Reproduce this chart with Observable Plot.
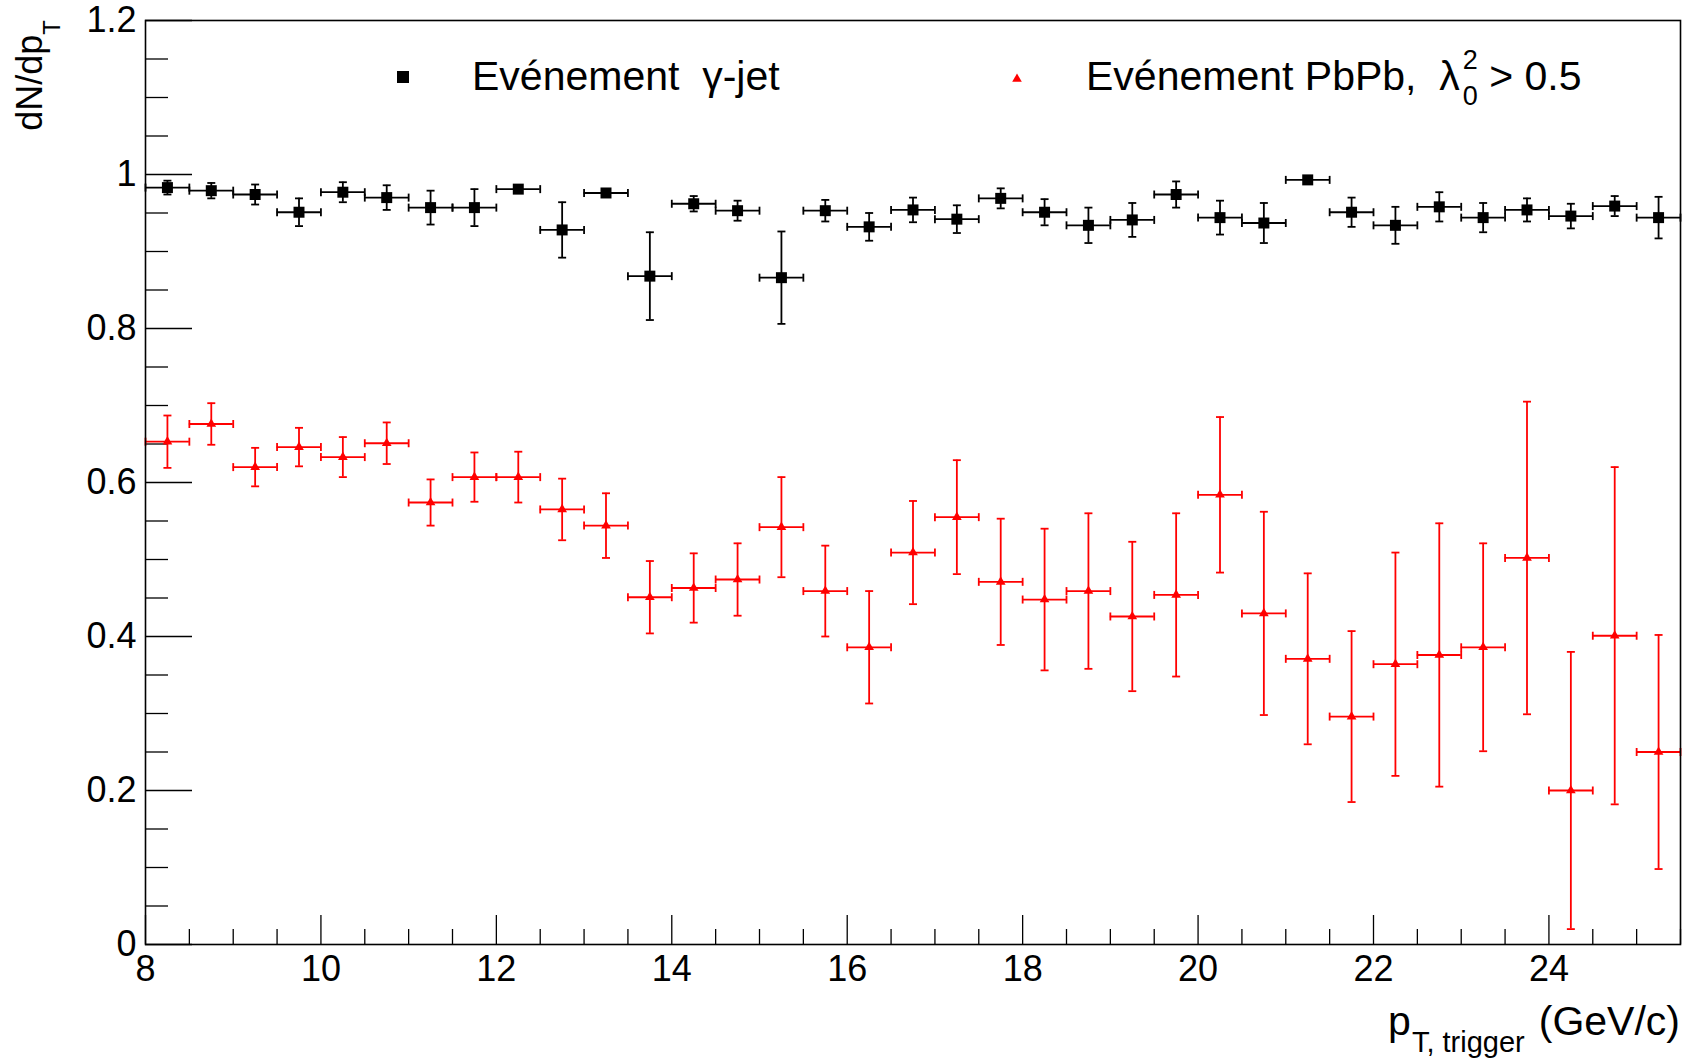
<!DOCTYPE html>
<html>
<head>
<meta charset="utf-8">
<script src="https://cdn.jsdelivr.net/npm/d3@7"></script>
<script src="https://cdn.jsdelivr.net/npm/@observablehq/plot@0.6"></script>
<style>
  html, body { margin: 0; padding: 0; background: #fff; }
  svg { display: block; }
</style>
</head>
<body>
<div id="chart"></div>
<script>
// ---- data ----
const ptCenters = [8.25, 8.75, 9.25, 9.75, 10.25, 10.75, 11.25, 11.75, 12.25, 12.75,
  13.25, 13.75, 14.25, 14.75, 15.25, 15.75, 16.25, 16.75, 17.25, 17.75,
  18.25, 18.75, 19.25, 19.75, 20.25, 20.75, 21.25, 21.75, 22.25, 22.75,
  23.25, 23.75, 24.25, 24.75, 25.25];
const binHalfWidth = 0.25;

const gammaJet = [0.983, 0.979, 0.974, 0.951, 0.977, 0.970, 0.957, 0.957, 0.981, 0.928,
  0.976, 0.868, 0.962, 0.953, 0.866, 0.953, 0.932, 0.954, 0.942, 0.969,
  0.951, 0.934, 0.941, 0.974, 0.944, 0.937, 0.993, 0.951, 0.934, 0.958,
  0.944, 0.954, 0.946, 0.959, 0.944];
const gammaJetErr = [0.009, 0.010, 0.013, 0.018, 0.013, 0.016, 0.022, 0.024, 0.004, 0.036,
  0.005, 0.057, 0.010, 0.013, 0.060, 0.014, 0.018, 0.016, 0.018, 0.013,
  0.017, 0.023, 0.022, 0.017, 0.022, 0.026, 0.004, 0.019, 0.024, 0.019,
  0.019, 0.015, 0.016, 0.013, 0.027];

const pbpb = [0.653, 0.676, 0.620, 0.646, 0.633, 0.651, 0.574, 0.607, 0.607, 0.565,
  0.544, 0.451, 0.463, 0.474, 0.542, 0.459, 0.386, 0.509, 0.555, 0.471,
  0.448, 0.459, 0.426, 0.454, 0.584, 0.430, 0.371, 0.296, 0.364, 0.376,
  0.386, 0.502, 0.200, 0.401, 0.250];
const pbpbErr = [0.034, 0.027, 0.025, 0.025, 0.026, 0.027, 0.030, 0.032, 0.033, 0.040,
  0.042, 0.047, 0.045, 0.047, 0.065, 0.059, 0.073, 0.067, 0.074, 0.082,
  0.092, 0.101, 0.097, 0.106, 0.101, 0.132, 0.111, 0.111, 0.145, 0.171,
  0.135, 0.203, 0.180, 0.219, 0.152];

const xDomain = [8, 25.5];
const yDomain = [0, 1.2];
const xMajorTicks = [8, 10, 12, 14, 16, 18, 20, 22, 24];
const yMajorTicks = [0, 0.2, 0.4, 0.6, 0.8, 1, 1.2];
const xMinorStep = 0.5;
const yMinorStep = 0.05;

const seriesNames = ["Evénement  γ-jet", "Evénement PbPb,  λ"];
const yTitle = ["dN/dp", "T"];
const xTitle = ["p", "T, trigger", "(GeV/c)"];

// ---- layout ----
const W = 1693, H = 1061;
const mL = 145, mR = 13, mT = 20, mB = 117;
const fw = W - mL - mR, fh = H - mT - mB;
const FONT = "'Liberation Sans', Arial, Helvetica, sans-serif";

const xMinorTicks = d3.range(xDomain[0], xDomain[1] + 1e-9, xMinorStep)
  .filter(v => !xMajorTicks.some(t => Math.abs(t - v) < 1e-9));
const yMinorTicks = d3.range(yDomain[0], yDomain[1] + 1e-9, yMinorStep)
  .filter(v => !yMajorTicks.some(t => Math.abs(t - v) < 1e-9));

const rows = (vals, errs) => ptCenters.map((x, i) => ({x, y: vals[i], e: errs[i]}));
const gj = rows(gammaJet, gammaJetErr);
const pb = rows(pbpb, pbpbErr);

const capH = {draw(ctx, size) { const r = Math.sqrt(size / Math.PI); ctx.moveTo(-r, 0); ctx.lineTo(r, 0); }};
const capV = {draw(ctx, size) { const r = Math.sqrt(size / Math.PI); ctx.moveTo(0, -r); ctx.lineTo(0, r); }};

function errorMarks(data, color, symbol, symR, sw) {
  const capR = 4;
  return [
    Plot.ruleY(data, {y: "y", x1: d => d.x - binHalfWidth, x2: d => d.x + binHalfWidth, stroke: color, strokeWidth: sw}),
    Plot.ruleX(data, {x: "x", y1: d => d.y - d.e, y2: d => d.y + d.e, stroke: color, strokeWidth: sw}),
    Plot.dot(data, {x: d => d.x - binHalfWidth, y: "y", symbol: capV, r: capR, fill: "none", stroke: color, strokeWidth: sw}),
    Plot.dot(data, {x: d => d.x + binHalfWidth, y: "y", symbol: capV, r: capR, fill: "none", stroke: color, strokeWidth: sw}),
    Plot.dot(data, {x: "x", y: d => d.y + d.e, symbol: capH, r: capR, fill: "none", stroke: color, strokeWidth: sw}),
    Plot.dot(data, {x: "x", y: d => d.y - d.e, symbol: capH, r: capR, fill: "none", stroke: color, strokeWidth: sw}),
    Plot.dot(data, {x: "x", y: "y", symbol, r: symR, fill: color, stroke: "none"})
  ];
}

const chart = Plot.plot({
  width: W, height: H,
  marginLeft: mL, marginRight: mR, marginTop: mT, marginBottom: mB,
  style: {fontFamily: FONT, background: "#fff", color: "#000"},
  x: {domain: xDomain},
  y: {domain: yDomain},
  marks: [
    // ticks inside frame (ROOT style)
    Plot.ruleX(xMajorTicks, {insetTop: fh - 29, stroke: "#000", strokeWidth: 1.3}),
    Plot.ruleX(xMinorTicks, {insetTop: fh - 15, stroke: "#000", strokeWidth: 1.3}),
    Plot.ruleY(yMajorTicks, {insetRight: fw - 47, stroke: "#000", strokeWidth: 1.3}),
    Plot.ruleY(yMinorTicks, {insetRight: fw - 23, stroke: "#000", strokeWidth: 1.3}),
    Plot.axisX({ticks: xMajorTicks, tickSize: 0, tickPadding: 11, fontSize: 36, label: null, tickFormat: d3.format("~g")}),
    Plot.axisY({ticks: yMajorTicks, tickSize: 0, tickPadding: 9, fontSize: 36, label: null, tickFormat: d3.format("~g")}),
    ...errorMarks(gj, "#000", "square", 6.2, 1.8),
    ...errorMarks(pb, "#ff0000", "triangle", 3.6, 1.8),
    Plot.frame({stroke: "#000", strokeWidth: 1.6})
  ]
});

document.getElementById("chart").appendChild(chart);

// ---- titles and legend (real text) ----
const svg = d3.select(chart);
const textColor = "#000";

// y title (rotated, aligned to top end of axis)
const yt = svg.append("text")
  .attr("transform", `translate(42, ${mT}) rotate(-90)`)
  .attr("text-anchor", "end")
  .attr("font-family", FONT).attr("font-size", 36).attr("fill", textColor);
yt.append("tspan").text(yTitle[0]);
yt.append("tspan").attr("font-size", 24).attr("dy", 18).text(yTitle[1]);

// x title (right aligned)
const xt = svg.append("text")
  .attr("x", W - mR).attr("y", 1035)
  .attr("text-anchor", "end")
  .attr("font-family", FONT).attr("font-size", 41).attr("fill", textColor)
  .style("white-space", "pre");
xt.append("tspan").text(xTitle[0]);
xt.append("tspan").attr("font-size", 29).attr("dy", 17).attr("dx", 1).text(xTitle[1]);
xt.append("tspan").attr("dy", -17).attr("dx", 14).text(xTitle[2]);

// legend
const LEG = 41;
const sq = d3.symbol(d3.symbolSquare, 12 * 12)();
svg.append("path").attr("d", sq).attr("transform", "translate(403, 77)").attr("fill", "#000");
svg.append("text").attr("x", 472).attr("y", 90)
  .attr("text-anchor", "start")
  .attr("font-family", FONT).attr("font-size", LEG).attr("fill", textColor)
  .style("white-space", "pre").text(seriesNames[0]);

const tri = d3.symbol(d3.symbolTriangle, 40)();
svg.append("path").attr("d", tri).attr("transform", "translate(1017, 79)").attr("fill", "#ff0000");
const l2 = svg.append("text").attr("x", 1086).attr("y", 90)
  .attr("text-anchor", "start")
  .attr("font-family", FONT).attr("font-size", LEG).attr("fill", textColor)
  .style("white-space", "pre");
l2.append("tspan").text(seriesNames[1]);
l2.append("tspan").attr("font-size", 27).attr("dx", 3).attr("dy", -21).text("2");
l2.append("tspan").attr("font-size", 27).attr("dx", -15).attr("dy", 36).text("0");
l2.append("tspan").attr("dy", -15).text(" > 0.5");
</script>
</body>
</html>
